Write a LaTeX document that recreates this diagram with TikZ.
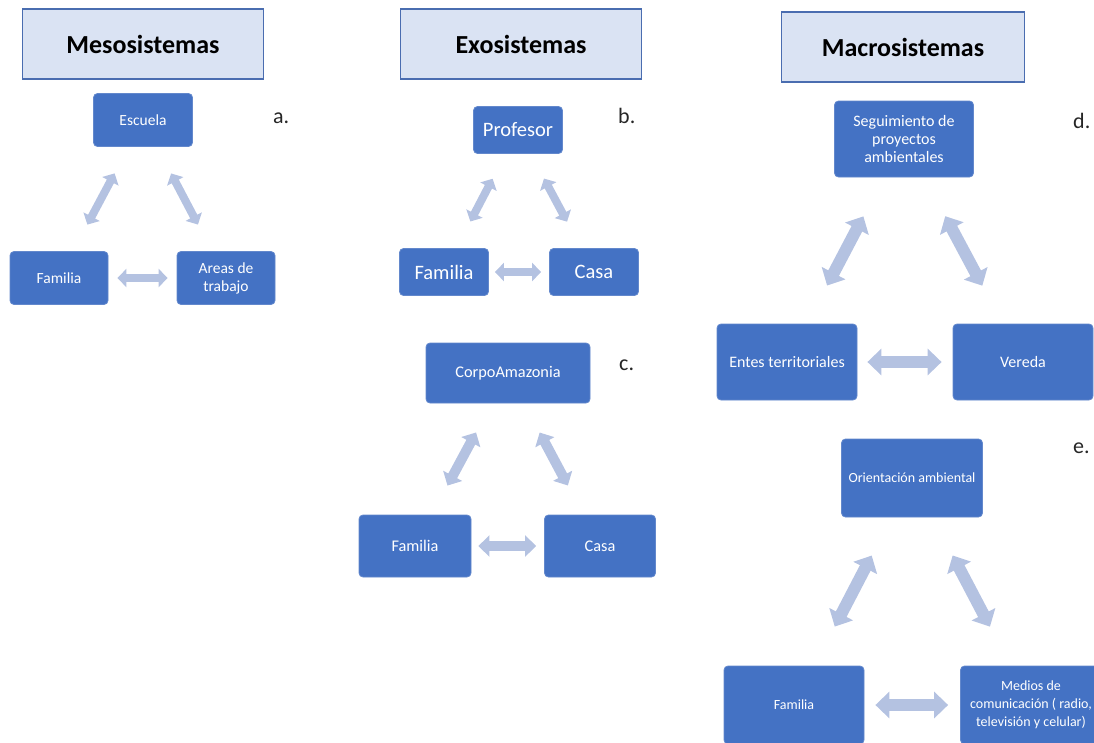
\documentclass[tikz,border=0pt]{standalone}
\usepackage{fontspec}
\setmainfont{Carlito}
\usetikzlibrary{arrows.meta}

\definecolor{cajaazul}{HTML}{4472C4}
\definecolor{cajaborde}{HTML}{6388CC}
\definecolor{flechaazul}{HTML}{B4C2E1}
\definecolor{titulofondo}{HTML}{DAE3F3}
\definecolor{tituloborde}{HTML}{4A6DB0}
\definecolor{letra}{HTML}{262626}

\tikzset{
  titulo/.style={draw=tituloborde, fill=titulofondo, line width=1.3pt, inner sep=0pt,
    minimum width=241pt, minimum height=70pt, font=\bfseries\fontsize{26}{30}\selectfont},
  caja/.style={draw=cajaborde, fill=cajaazul, line width=0.8pt, rounded corners=4pt,
    text=white, align=center, inner sep=2pt},
  cajaa/.style={caja, minimum width=99pt, minimum height=53pt, font=\fontsize{15.5}{18}\selectfont},
  cajab/.style={caja, minimum width=89pt, minimum height=47pt, font=\fontsize{20.5}{24}\selectfont},
  cajac/.style={caja, minimum width=112pt, minimum height=62pt, font=\fontsize{16.3}{19}\selectfont},
  cajad/.style={caja, minimum width=140pt, minimum height=76pt, font=\fontsize{16}{18.3}\selectfont},
  cajae/.style={caja, minimum width=141pt, minimum height=78pt, font=\fontsize{14}{18}\selectfont},
  etiqueta/.style={anchor=base west, inner sep=0pt, text=letra, font=\fontsize{22}{26}\selectfont},
  flechaS/.style={flechaazul, line width=8pt, arrows={Triangle[width=18pt,length=9pt]-Triangle[width=18pt,length=9pt]}},
  flechaM/.style={flechaazul, line width=10pt, arrows={Triangle[width=21pt,length=11pt]-Triangle[width=21pt,length=11pt]}},
  flechaL/.style={flechaazul, line width=12pt, arrows={Triangle[width=26pt,length=14pt]-Triangle[width=26pt,length=14pt]}}
}

\begin{document}
\begin{tikzpicture}[x=1pt, y=-1pt]
    \useasboundingbox (0,0) rectangle (1094,742);

    % タイトル
    \node[titulo] (meso) at (143, 44) {Mesosistemas};
    \node[titulo] (exo) at (521, 44) {Exosistemas};
    \node[titulo, minimum width=243pt] (macro) at (903, 47) {Macrosistemas};

    % ノード (a)
    \node[cajaa] (escuela) at (143, 120) {Escuela};
    \node[cajaa, minimum width=98pt] (familiaA) at (59, 278) {Familia};
    \node[cajaa, minimum width=98pt] (areas) at (226, 278) {Areas de\\trabajo};
    \node[etiqueta] (la) at (273, 123) {a.};

    % ノード (b)
    \node[cajab] (profesor) at (518, 130) {Profesor};
    \node[cajab] (familiaB) at (444, 272) {Familia};
    \node[cajab] (casaB) at (594, 272) {Casa};
    \node[etiqueta] (lb) at (618, 123) {b.};

    % ノード (c)
    \node[cajac, minimum width=164pt, minimum height=60pt] (corpo) at (508, 373) {CorpoAmazonia};
    \node[cajac] (familiaC) at (415, 546) {Familia};
    \node[cajac, minimum width=111pt] (casaC) at (600, 546) {Casa};
    \node[etiqueta] (lc) at (619, 370) {c.};

    % ノード (d)
    \node[cajad, minimum width=139pt] (seguimiento) at (904, 139) {Seguimiento de\\proyectos\\ambientales};
    \node[cajad] (entes) at (787, 362) {Entes territoriales};
    \node[cajad] (vereda) at (1023, 362) {Vereda};
    \node[etiqueta] (ld) at (1073, 128) {d.};

    % ノード (e)
    \node[cajae] (orientacion) at (912, 478) {Orientación ambiental};
    \node[cajae, minimum width=140pt] (familiaE) at (794, 705) {Familia};
    \node[cajae] (medios) at (1031, 705) {Medios de\\comunicación ( radio,\\televisión y celular)};
    \node[etiqueta] (le) at (1073, 453) {e.};

    % エッジ
    \draw[flechaS, shorten <=30pt, shorten >=30pt] (escuela) -- (familiaA);
    \draw[flechaS, shorten <=30pt, shorten >=30pt] (escuela) -- (areas);
    \draw[flechaS, shorten <=9pt, shorten >=9pt] (familiaA) -- (areas);

    \draw[flechaS, shorten <=28pt, shorten >=30pt] (profesor) -- (familiaB);
    \draw[flechaS, shorten <=28pt, shorten >=30pt] (profesor) -- (casaB);
    \draw[flechaS, shorten <=6pt, shorten >=8pt] (familiaB) -- (casaB);

    \draw[flechaM, shorten <=33pt, shorten >=33pt] (corpo) -- (familiaC);
    \draw[flechaM, shorten <=33pt, shorten >=33pt] (corpo) -- (casaC);
    \draw[flechaM, shorten <=7pt, shorten >=8pt] (familiaC) -- (casaC);

    \draw[flechaL, shorten <=44pt, shorten >=43pt] (seguimiento) -- (entes);
    \draw[flechaL, shorten <=44pt, shorten >=43pt] (seguimiento) -- (vereda);
    \draw[flechaL, shorten <=10pt, shorten >=11pt] (entes) -- (vereda);

    \draw[flechaL, shorten <=43pt, shorten >=44pt] (orientacion) -- (familiaE);
    \draw[flechaL, shorten <=43pt, shorten >=44pt] (orientacion) -- (medios);
    \draw[flechaL, shorten <=11pt, shorten >=12pt] (familiaE) -- (medios);
  \end{tikzpicture}
\end{document}
